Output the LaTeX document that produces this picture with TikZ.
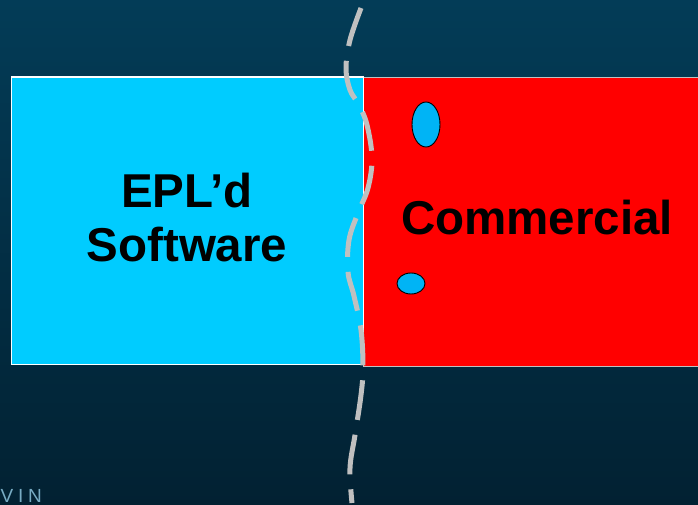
\documentclass[tikz,border=0pt]{standalone}
\usepackage{fontspec}
\setmainfont{Liberation Sans}
\usetikzlibrary{shapes.geometric}
\definecolor{bgtop}{RGB}{3,60,87}
\definecolor{bgbot}{RGB}{2,33,50}
\definecolor{eplcyan}{RGB}{0,204,255}
\definecolor{dotblue}{RGB}{0,180,245}
\definecolor{dashgray}{RGB}{192,192,192}
\definecolor{vintext}{RGB}{120,172,196}
\tikzset{
  bigtext/.style={font=\fontsize{47.5}{54}\selectfont\bfseries, text=black, align=center},
  blob/.style={ellipse, draw=black, line width=0.9pt, fill=dotblue, inner sep=0pt},
  boundary/.style={draw=dashgray, line width=5pt, dash pattern=on 40pt off 15pt}
}
\begin{document}
\begin{tikzpicture}[x=1pt,y=-1pt]
\useasboundingbox (0,0) rectangle (698,505);
\clip (0,0) rectangle (698,505);
\shade[top color=bgtop, bottom color=bgbot] (0,0) rectangle (698,505);
% rectangles
\node[draw=dashgray, line width=1pt, fill=red, minimum width=346pt, minimum height=288pt, inner sep=0pt, anchor=north west] (comm) at (362.5,77.5) {};
\node[draw=white, line width=1.5pt, fill=eplcyan, minimum width=352pt, minimum height=287pt, inner sep=0pt, anchor=north west] (epl) at (10.5,76.5) {};
% texts
\node[bigtext] (epltext) at (187,218) {EPL’d\\Software};
\node[bigtext] (commtext) at (537,218) {Commercial};
% blobs
\node[blob, minimum width=28pt, minimum height=45pt] (b1) at (426,124.5) {};
\node[blob, minimum width=28pt, minimum height=21pt] (b2) at (411,283.5) {};
% dashed boundary
\draw[boundary] plot[smooth, tension=0.6] coordinates {(361,8) (350,40) (346,68) (350,90) (359,105) (367,125) (372,158) (368,188) (358,213) (349,240) (348,272) (354,296) (361,330) (363,367) (361,395) (355,435) (350,468) (352,503)};
% cut-off logo text
\node[font=\fontsize{19}{19}\selectfont\addfontfeatures{LetterSpace=25}, text=vintext, anchor=base west, inner sep=0pt] (vin) at (0.5,502) {VIN};
\end{tikzpicture}
\end{document}
